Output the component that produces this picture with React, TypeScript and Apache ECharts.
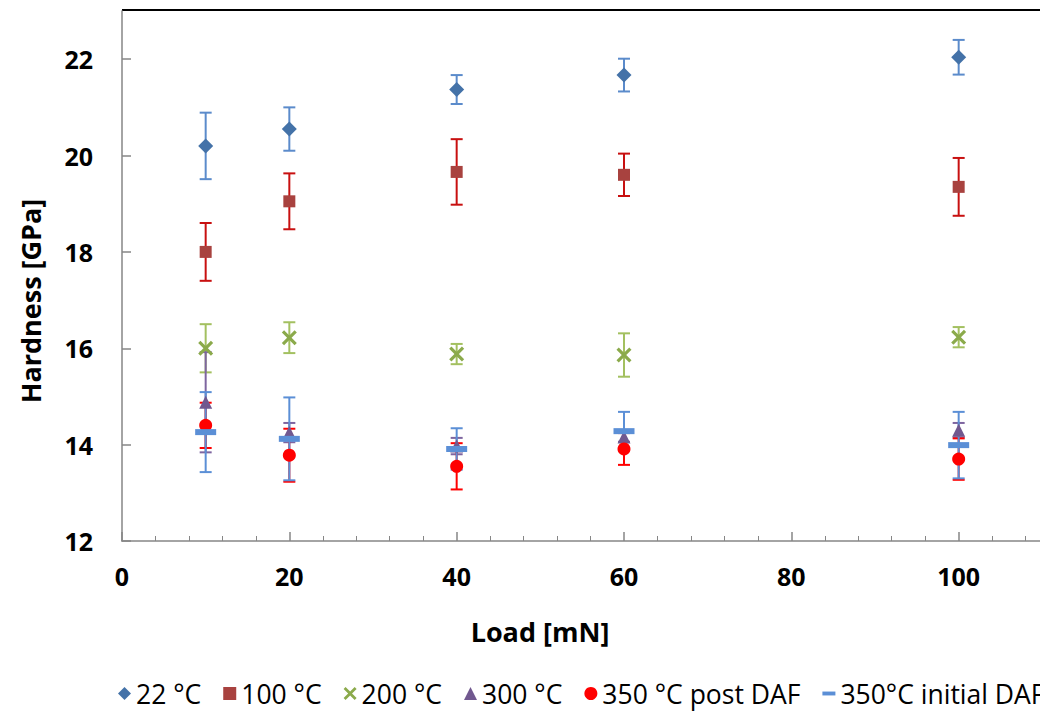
import React, { useEffect, useRef } from "react";
import * as echarts from "echarts";

const loads = [10, 20, 40, 60, 100];
const seriesNames = ["22 °C", "100 °C", "200 °C", "300 °C", "350 °C post DAF", "350°C initial DAF"];
const h22 = [20.2, 20.55, 21.37, 21.67, 22.04];
const e22 = [0.69, 0.45, 0.3, 0.34, 0.36];
const h100 = [18.0, 19.05, 19.66, 19.6, 19.35];
const e100 = [0.6, 0.58, 0.68, 0.44, 0.6];
const h200 = [16.0, 16.22, 15.88, 15.86, 16.23];
const e200 = [0.5, 0.32, 0.21, 0.45, 0.21];
const h300 = [14.88, 14.25, 13.97, 14.16, 14.3];
const e300 = [1.04, 0.2, 0.17, 0.1, 0.15];
const h350p = [14.4, 13.78, 13.55, 13.91, 13.7];
const e350p = [0.47, 0.55, 0.48, 0.33, 0.43];
const h350i = [14.26, 14.12, 13.91, 14.28, 13.99];
const e350i = [0.83, 0.86, 0.43, 0.4, 0.69];
const yTicks = [12, 14, 16, 18, 20, 22];
const xLabels = [0, 20, 40, 60, 80, 100];

const xPath = "path://M0,3 L3,0 L10,7 L17,0 L20,3 L13,10 L20,17 L17,20 L10,13 L3,20 L0,17 L7,10 Z";
const dashPath = "path://M0,0 H20 V6 H0 Z";

const FONT = "Open Sans";

export default function App() {
  const ref = useRef<HTMLDivElement>(null);
  useEffect(() => {
    if (!ref.current) return;
    const chart = echarts.init(ref.current, null, { renderer: "svg" });

    const defs = [
      { name: seriesNames[0], vals: h22, errs: e22, symbol: "diamond", size: 15, color: "#4472A8", bar: "#5B8BCB" },
      { name: seriesNames[1], vals: h100, errs: e100, symbol: "rect", size: 12, color: "#A8423F", bar: "#C81010" },
      { name: seriesNames[2], vals: h200, errs: e200, symbol: xPath, size: 15, color: "#8BAA4B", bar: "#A3C060" },
      { name: seriesNames[3], vals: h300, errs: e300, symbol: "triangle", size: 13, color: "#71588F", bar: "#7E65A0" },
      { name: seriesNames[4], vals: h350p, errs: e350p, symbol: "circle", size: 13, color: "#FF0000", bar: "#FF0000" },
      { name: seriesNames[5], vals: h350i, errs: e350i, symbol: "rect", size: [21, 6], color: "#5B8FD6", bar: "#5B8FD6" },
    ];
    const legendIcons = ["diamond", "rect", xPath, "triangle", "circle", dashPath];

    const series: any[] = [];
    defs.forEach((d, i) => {
      series.push({
        type: "custom",
        name: "err" + i,
        encode: { x: 0, y: [1, 2] },
        data: loads.map((x, k) => [x, d.vals[k] - d.errs[k], d.vals[k] + d.errs[k]]),
        renderItem: (params: any, api: any) => {
          const x = api.value(0);
          const lo = api.coord([x, api.value(1)]);
          const hi = api.coord([x, api.value(2)]);
          const w = 6;
          const st = { stroke: d.bar, lineWidth: 2 };
          return {
            type: "group",
            children: [
              { type: "line", shape: { x1: hi[0], y1: hi[1], x2: lo[0], y2: lo[1] }, style: st },
              { type: "line", shape: { x1: hi[0] - w, y1: hi[1], x2: hi[0] + w, y2: hi[1] }, style: st },
              { type: "line", shape: { x1: lo[0] - w, y1: lo[1], x2: lo[0] + w, y2: lo[1] }, style: st },
            ],
          };
        },
        silent: true,
      });
      series.push({
        type: "scatter",
        name: d.name,
        data: loads.map((x, k) => [x, d.vals[k]]),
        symbol: d.symbol,
        symbolSize: d.size,
        symbolKeepAspect: true,
        itemStyle: { color: d.color, opacity: 1 },
      });
    });

    chart.setOption({
      animation: false,
      textStyle: { fontFamily: FONT },
      grid: { left: 122, top: 11, right: 34, bottom: 170, containLabel: false },
      xAxis: {
        type: "value",
        min: 0,
        max: 120,
        interval: 20,
        axisLine: { show: true, lineStyle: { color: "#868686", width: 1.5 } },
        axisTick: { show: true, inside: true, length: 9, lineStyle: { color: "#868686", width: 1.5 } },
        minorTick: { show: true, splitNumber: 5, length: 5, lineStyle: { color: "#868686", width: 1 } },
        axisLabel: { color: "#000", fontSize: 25, fontWeight: "bold", fontFamily: FONT, margin: 22, customValues: xLabels },
        splitLine: { show: false },
      },
      yAxis: {
        type: "value",
        min: 12,
        max: 23,
        interval: 2,
        axisLine: { show: true, lineStyle: { color: "#868686", width: 1.5 } },
        axisTick: { show: true, inside: true, length: 9, customValues: yTicks, lineStyle: { color: "#868686", width: 1.5 } },
        axisLabel: { color: "#000", fontSize: 25, fontWeight: "bold", fontFamily: FONT, margin: 29, customValues: yTicks },
        splitLine: { show: false },
      },
      legend: {
        left: 113,
        top: 675,
        itemWidth: 13,
        itemHeight: 13,
        itemGap: 22,
        textStyle: { color: "#000", fontSize: 26.5, fontFamily: FONT },
        data: seriesNames.map((n, i) => ({ name: n, icon: legendIcons[i] })),
      },
      graphic: [
        { type: "line", shape: { x1: 122, y1: 10, x2: 1160, y2: 10 }, style: { stroke: "#000", lineWidth: 2 } },
        {
          type: "text",
          x: 30,
          y: 301,
          rotation: Math.PI / 2,
          style: { text: "Hardness [GPa]", font: `bold 27px "${FONT}"`, fill: "#000", textAlign: "center", textVerticalAlign: "middle" },
        },
        {
          type: "text",
          x: 540,
          y: 631,
          style: { text: "Load [mN]", font: `bold 27px "${FONT}"`, fill: "#000", textAlign: "center", textVerticalAlign: "middle" },
        },
      ],
      series,
    });
    return () => chart.dispose();
  }, []);

  return (
    <div style={{ position: "fixed", left: 0, top: 0, width: 1040, height: 711, overflow: "hidden", background: "#fff" }}>
      <div ref={ref} style={{ width: 1160, height: 711 }} />
    </div>
  );
}
